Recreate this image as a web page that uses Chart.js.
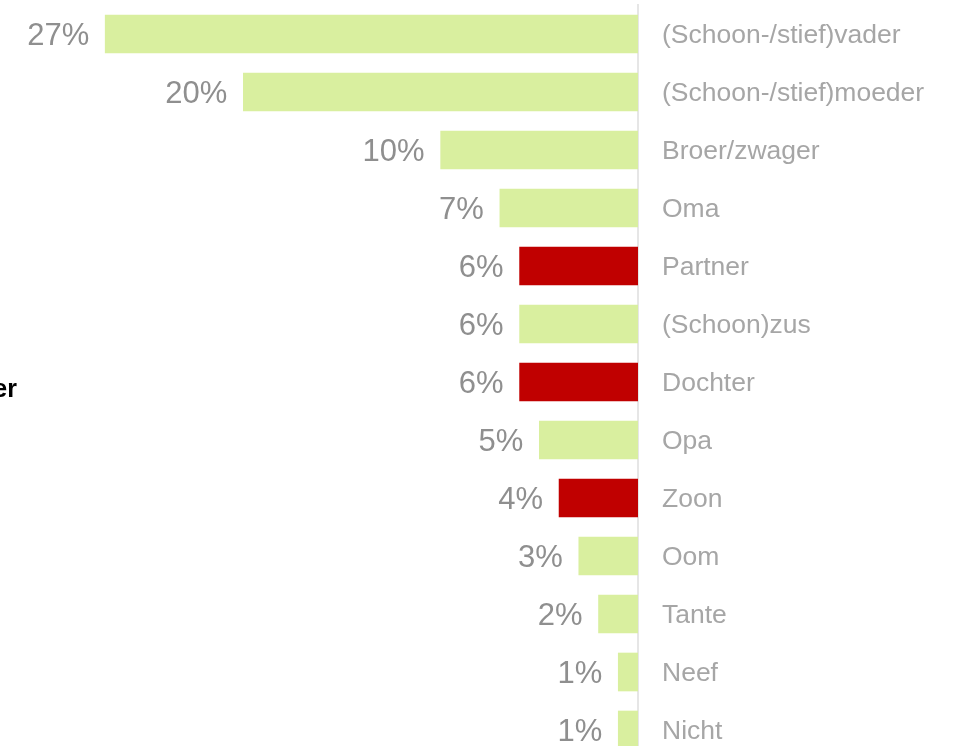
<!DOCTYPE html>
<html>
<head>
<meta charset="utf-8">
<script src="https://cdn.jsdelivr.net/npm/chart.js@4.4.1/dist/chart.umd.min.js"></script>
<style>
  html, body { margin: 0; padding: 0; background: #ffffff; overflow: hidden; width: 956px; height: 746px; }
  #wrap { position: relative; width: 956px; height: 760px; }
</style>
</head>
<body>
<div id="wrap"><canvas id="c" width="956" height="760"></canvas></div>
<script>
const categories = ["(Schoon-/stief)vader", "(Schoon-/stief)moeder", "Broer/zwager", "Oma", "Partner", "(Schoon)zus", "Dochter", "Opa", "Zoon", "Oom", "Tante", "Neef", "Nicht"];
const values = [27, 20, 10, 7, 6, 6, 6, 5, 4, 3, 2, 1, 1];
const highlighted = ["Partner", "Dochter", "Zoon"];
const valueLabels = values.map(v => v + "%");
const sideText = "er";

const GREEN = "#d9ef9f";
const RED = "#c00000";

const valueLabelPlugin = {
  id: "valueLabels",
  afterDatasetsDraw(chart) {
    const ctx = chart.ctx;
    const meta = chart.getDatasetMeta(0);
    ctx.save();
    ctx.font = "31px 'Liberation Sans', Arial, sans-serif";
    ctx.fillStyle = "#8f8f8f";
    ctx.textAlign = "right";
    ctx.textBaseline = "middle";
    meta.data.forEach((bar, i) => {
      const left = Math.min(bar.x, bar.base);
      ctx.fillText(valueLabels[i], left - 16, bar.y + 2);
    });
    ctx.restore();
    // clipped side text at the far left
    ctx.save();
    ctx.font = "bold 25px 'Liberation Sans', Arial, sans-serif";
    ctx.fillStyle = "#000000";
    ctx.textAlign = "right";
    ctx.textBaseline = "alphabetic";
    ctx.fillText(sideText, 17, 397);
    ctx.restore();
  }
};

new Chart(document.getElementById("c"), {
  type: "bar",
  data: {
    labels: categories,
    datasets: [{
      data: values,
      backgroundColor: categories.map(c => highlighted.includes(c) ? RED : GREEN),
      borderWidth: 0,
      barThickness: 38
    }]
  },
  options: {
    indexAxis: "y",
    responsive: false,
    animation: false,
    devicePixelRatio: 1,
    layout: { autoPadding: false, padding: { left: 46, top: 5, bottom: 1, right: 0 } },
    plugins: { legend: { display: false }, tooltip: { enabled: false } },
    scales: {
      x: {
        reverse: true,
        min: 0,
        max: 30,
        display: false
      },
      y: {
        position: "right",
        grid: { display: false, drawTicks: false },
        border: { display: true, color: "#e6e6e6", width: 2 },
        ticks: {
          color: "#a6a6a6",
          padding: 24,
          labelOffset: 2,
          font: { family: "'Liberation Sans', Arial, sans-serif", size: 26.5 }
        },
        afterFit(scale) { scale.width = 318; scale.paddingTop = 0; scale.paddingBottom = 0; }
      }
    }
  },
  plugins: [valueLabelPlugin]
});
</script>
</body>
</html>
